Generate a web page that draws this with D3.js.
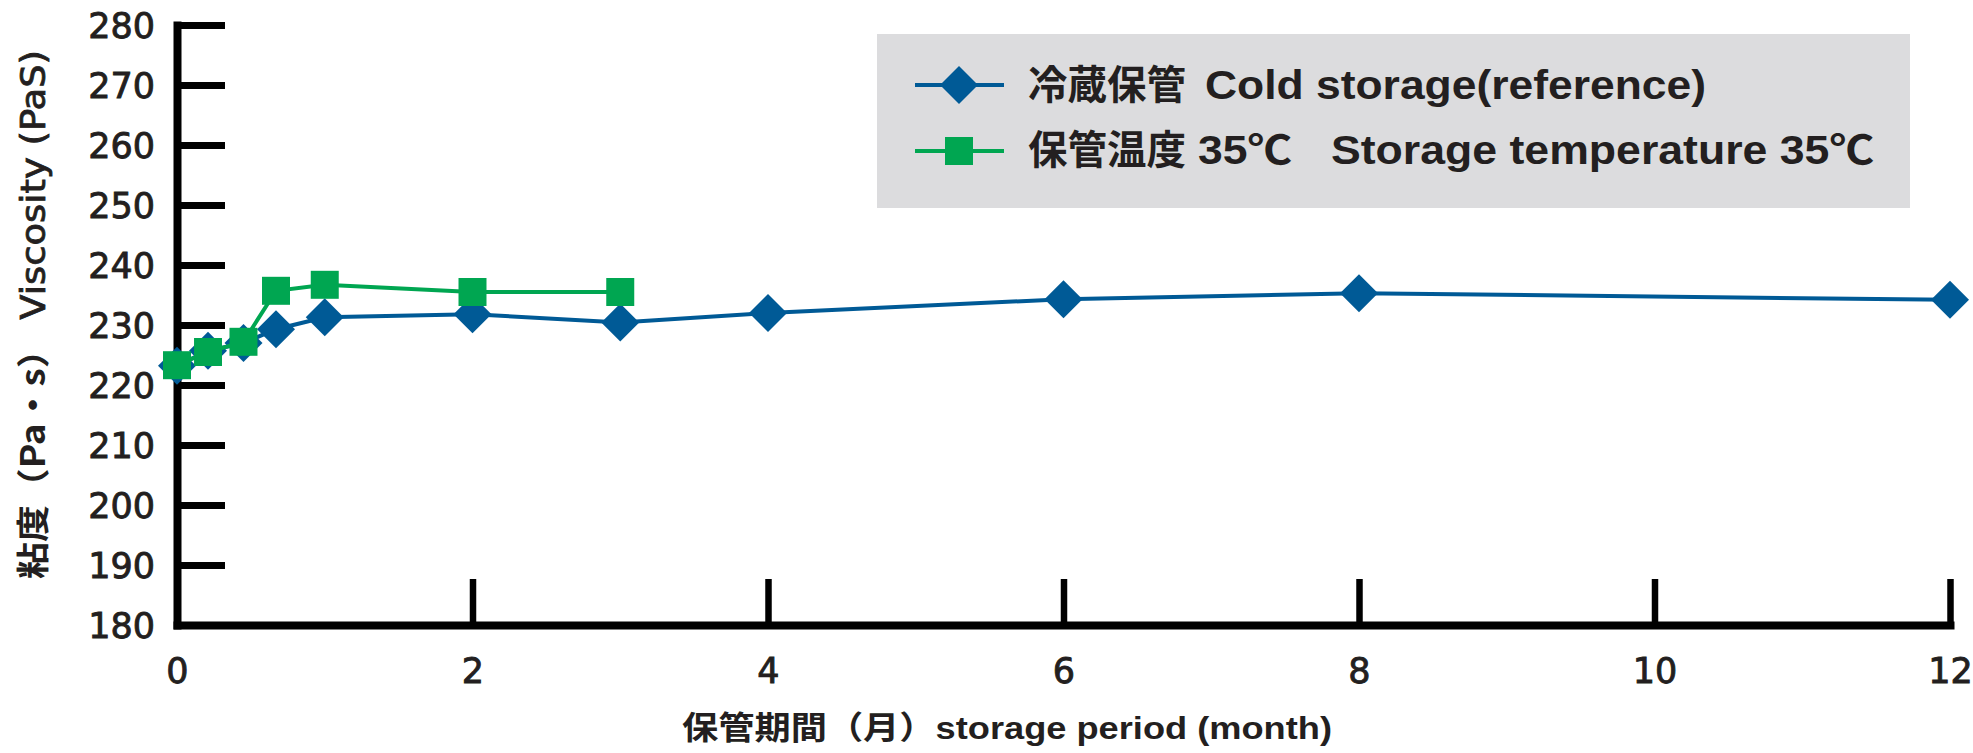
<!DOCTYPE html>
<html>
<head>
<meta charset="utf-8">
<script src="https://cdn.jsdelivr.net/npm/d3@7"></script>
<style>
  html, body { margin: 0; padding: 0; background: #ffffff; }
  svg { display: block; }
</style>
</head>
<body>
<svg id="chart" width="1973" height="753"></svg>
<script>
// ---- data ----
const coldMonths = [0, 0.21, 0.45, 0.67, 1, 2, 3, 4, 6, 8, 12];
const coldValues = [223.2, 225.7, 227.0, 229.3, 231.3, 231.8, 230.4, 232.0, 234.3, 235.3, 234.2];
const hotMonths  = [0, 0.21, 0.45, 0.67, 1, 2, 3];
const hotValues  = [223.3, 225.5, 227.2, 235.7, 236.7, 235.5, 235.5];
const yTicks = [180, 190, 200, 210, 220, 230, 240, 250, 260, 270, 280];
const xTicks = [0, 2, 4, 6, 8, 10, 12];
const seriesNames = [
  ["冷蔵保管", "Cold storage(reference)"],
  ["保管温度", "35℃", "Storage temperature 35℃"]
];
const xTitle = "保管期間（月）storage period (month)";
const yTitleParts = ["粘度（Pa・s）", " Viscosity (PaS)"];

const BLUE = "#005a96", GREEN = "#00a651", INK = "#231f20";

const svg = d3.select("#chart");
const x = d3.scaleLinear().domain([0, 12]).range([177, 1950]);
const y = d3.scaleLinear().domain([180, 280]).range([625, 25]);

// ---- axes ----
const yAxis = d3.axisLeft(y).tickValues(yTicks).tickSizeInner(-48).tickSizeOuter(0).tickPadding(22);
const gy = svg.append("g").attr("transform", `translate(${x(0)},0)`).call(yAxis);
const xAxis = d3.axisBottom(x).tickValues(xTicks).tickSizeInner(-46).tickSizeOuter(0).tickPadding(33);
const gx = svg.append("g").attr("transform", `translate(0,${y(180)})`).call(xAxis);

[gy, gx].forEach(g => {
  g.select(".domain").attr("stroke", "#000").attr("stroke-width", 8).attr("stroke-linecap", "square");
  g.selectAll(".tick line").attr("stroke", "#000").attr("stroke-width", 7);
  g.selectAll(".tick text")
    .attr("fill", INK)
    .attr("stroke", INK).attr("stroke-width", 0.9)
    .style("font-family", "'DejaVu Sans', sans-serif")
    .style("font-size", "35px");
});
gy.selectAll(".tick text").attr("dy", "0.36em");
gx.selectAll(".tick line").attr("stroke-width", 6.5);

// ---- lines & markers ----
function drawSeries(months, values, color, shape) {
  const pts = months.map((m, i) => [m, values[i]]);
  const line = d3.line().x(d => x(d[0])).y(d => y(d[1]));
  svg.append("path").datum(pts).attr("d", line)
    .attr("fill", "none").attr("stroke", color).attr("stroke-width", 4);
  const sym = shape === "diamond"
    ? d3.symbol().type(d3.symbolSquare).size(2 * 19 * 19)
    : d3.symbol().type(d3.symbolSquare).size(28 * 28);
  svg.append("g").selectAll("path").data(pts).join("path")
    .attr("d", sym)
    .attr("transform", d => `translate(${x(d[0])},${y(d[1])})` + (shape === "diamond" ? " rotate(45)" : ""))
    .attr("fill", color);
}
drawSeries(coldMonths, coldValues, BLUE, "diamond");
drawSeries(hotMonths, hotValues, GREEN, "square");

// ---- legend ----
const lg = svg.append("g");
lg.append("rect").attr("x", 877).attr("y", 34).attr("width", 1033).attr("height", 174).attr("fill", "#dcdcde");
const legendRows = [
  { y: 85, color: BLUE, shape: "diamond", base: 99,
    parts: [[seriesNames[0][0], 1028, 158], [seriesNames[0][1], 1205, 501]] },
  { y: 151, color: GREEN, shape: "square", base: 164,
    parts: [[seriesNames[1][0], 1028, 158], [seriesNames[1][1], 1198, 94], [seriesNames[1][2], 1331, 543]] }
];
legendRows.forEach(r => {
  lg.append("line").attr("x1", 915).attr("x2", 1004).attr("y1", r.y).attr("y2", r.y)
    .attr("stroke", r.color).attr("stroke-width", 4);
  const sym = r.shape === "diamond"
    ? d3.symbol().type(d3.symbolSquare).size(2 * 19 * 19)
    : d3.symbol().type(d3.symbolSquare).size(28 * 28);
  lg.append("path").attr("d", sym)
    .attr("transform", `translate(959,${r.y})` + (r.shape === "diamond" ? " rotate(45)" : ""))
    .attr("fill", r.color);
  r.parts.forEach(p => {
    lg.append("text").attr("x", p[1]).attr("y", r.base)
      .attr("textLength", p[2]).attr("lengthAdjust", "spacingAndGlyphs")
      .attr("fill", INK)
      .style("font-family", "'Liberation Sans', 'Noto Sans CJK JP', sans-serif")
      .style("font-weight", "bold")
      .style("font-size", "40px")
      .text(p[0]);
  });
});

// ---- axis titles ----
svg.append("text").attr("x", 682).attr("y", 739)
  .attr("textLength", 650).attr("lengthAdjust", "spacingAndGlyphs")
  .attr("fill", INK)
  .style("font-family", "'Liberation Sans', 'Noto Sans CJK JP', sans-serif")
  .style("font-weight", "bold")
  .style("font-size", "32px")
  .text(xTitle);

const yt = svg.append("text")
  .attr("transform", "translate(45,579) rotate(-90)")
  .attr("x", 0).attr("y", 0)
  .attr("textLength", 529).attr("lengthAdjust", "spacingAndGlyphs")
  .attr("fill", INK)
  .style("font-family", "'DejaVu Sans', 'Noto Sans CJK JP', sans-serif")
  .style("font-size", "33px");
yt.append("tspan").style("font-weight", "bold").style("font-family", "'Noto Sans CJK JP', sans-serif").text(yTitleParts[0]);
yt.append("tspan").attr("stroke", INK).attr("stroke-width", 0.8).text(yTitleParts[1]);
</script>
</body>
</html>
